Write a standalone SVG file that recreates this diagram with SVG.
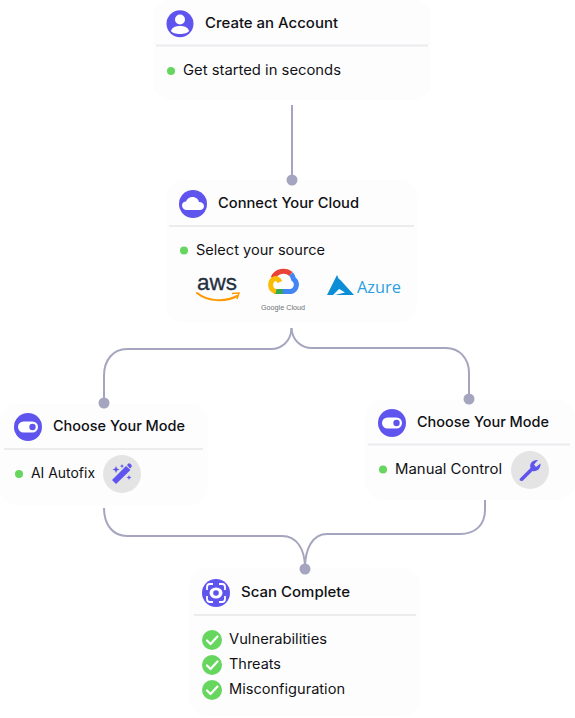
<svg xmlns="http://www.w3.org/2000/svg" width="575" height="718" viewBox="0 0 575 718">
<style>
text{font-family:"Inter","Open Sans","Liberation Sans",sans-serif;fill:#111114}
.t{font-size:14px;font-weight:500}
.b{font-size:14px;font-weight:400}
.card{fill:#fdfdfe}
.div{stroke:#ececee;stroke-width:2;fill:none}
.ic{fill:#5f55ee}
.bul{fill:#66d65f}
.con{fill:none;stroke:#a5a5bf;stroke-width:2}
.dot{fill:#a5a5bf}
.w{fill:#fff}
.gray{fill:#e4e4e4}
.g{fill:none;stroke-width:5}
</style>
<defs>
<g id="toggle"><circle r="14" class="ic"/><rect x="-10" y="-5.500" width="20" height="11" rx="5.500" class="w"/><circle cx="4.500" r="3.200" class="ic"/></g>
<g id="check"><circle r="10" class="bul"/><path d="M-5 0.500L-1.500 4L5.500 -3.500" fill="none" stroke="#fff" stroke-width="2.200" stroke-linecap="round" stroke-linejoin="round"/></g>
</defs>
<g id="node-account">
<rect class="card" x="153" y="0" width="278" height="100" rx="18"/>
<path class="div" d="M156 45.500H428"/>
<circle cx="180" cy="23.700" r="13.500" class="ic"/>
<circle cx="180" cy="19.500" r="5" class="w"/>
<path class="w" d="M171 31C172 27 176 26 180 26S188 27 189 31C187 35 173 35 171 31Z"/>
<text class="t" x="205" y="28" textLength="133" lengthAdjust="spacingAndGlyphs">Create an Account</text>
<circle cx="171" cy="71" r="4" class="bul"/>
<text class="b" x="183" y="75" textLength="158" lengthAdjust="spacingAndGlyphs">Get started in seconds</text>
</g>
<g id="node-cloud">
<rect class="card" x="166" y="180" width="251" height="143" rx="18"/>
<path class="div" d="M169 226H414"/>
<circle cx="193" cy="204" r="14" class="ic"/>
<path class="w" d="M187 210C184 210 182 208 182 205.500C182 203 184 201.500 186 201.500C187 198.500 189.500 197 192.500 197C196 197 198.500 199.500 199 202C202 202 204 204 204 206C204 208.500 202 210 200 210Z"/>
<text class="t" x="218" y="208" textLength="141" lengthAdjust="spacingAndGlyphs">Connect Your Cloud</text>
<circle cx="184" cy="250.500" r="4" class="bul"/>
<text class="b" x="196" y="255" textLength="129" lengthAdjust="spacingAndGlyphs">Select your source</text>
<text x="197" y="289.500" style="font-family:'Liberation Sans',sans-serif;font-size:22px;fill:#252f3e" stroke="#252f3e" stroke-width="0.300" textLength="40" lengthAdjust="spacingAndGlyphs">aws</text>
<path d="M197 293C208 302 226 302 237 296" fill="none" stroke="#ff9900" stroke-width="2" stroke-linecap="round"/>
<path d="M232 293.500L239 293L237 299" fill="none" stroke="#ff9900" stroke-width="1.500"/>
<path class="g" stroke="#ea4335" d="M273 278A11.500 11.500 0 0 1 291 274"/>
<path class="g" stroke="#4285f4" d="M291 274A11 11 0 0 1 293.500 279A7 7 0 0 1 291 291.500H283"/>
<path class="g" stroke="#34a853" d="M283 291.500H274"/>
<path class="g" stroke="#fbbc04" d="M276 291.500A6.800 6.800 0 0 1 275 278.500C277 278.500 279 280 280 282"/>
<text x="261" y="310" style="font-family:'Liberation Sans',sans-serif;font-size:8px;fill:#6f7277" textLength="44" lengthAdjust="spacingAndGlyphs">Google Cloud</text>
<path d="M337 275L342 286L333 295H327ZM339.500 279L354 295H335L345 292.500L336 287Z" fill="#0a8fd6"/>
<text x="357" y="293" style="font-family:'Open Sans',sans-serif;font-size:16px;fill:#2c9fe0" textLength="44" lengthAdjust="spacingAndGlyphs">Azure</text>
</g>
<g id="node-autofix">
<rect class="card" x="0" y="404" width="208" height="101" rx="18"/>
<path class="div" d="M4 449H203"/>
<use href="#toggle" x="28" y="427"/>
<text class="t" x="53" y="431" textLength="132" lengthAdjust="spacingAndGlyphs">Choose Your Mode</text>
<circle cx="19" cy="474" r="4" class="bul"/>
<text class="b" x="31" y="478" textLength="64" lengthAdjust="spacingAndGlyphs">AI Autofix</text>
<circle cx="122" cy="474" r="19" class="gray"/>
<path class="ic" d="M112 480L126 466L130.500 470L116 484ZM127 465L128.500 463.500Q129.500 463 130.500 464L131.500 465Q132 466 131.500 467L130 468.500Z"/>
<path class="ic" d="M116 466l1 2.500 2.500 1-2.500 1-1 2.500-1-2.500-2.500-1 2.500-1zM122 464l.6 1.500 1.500.6-1.500.6-.6 1.500-.6-1.500-1.500-.6 1.500-.6zM129 475l.7 1.800 1.800.7-1.800.7-.7 1.800-.7-1.800-1.800-.7 1.800-.7z"/>
</g>
<g id="node-manual">
<rect class="card" x="365" y="400" width="210" height="100" rx="18"/>
<path class="div" d="M368 444.500H570"/>
<use href="#toggle" x="392" y="423"/>
<text class="t" x="417" y="427" textLength="132" lengthAdjust="spacingAndGlyphs">Choose Your Mode</text>
<circle cx="383" cy="469.500" r="4" class="bul"/>
<text class="b" x="395" y="474" textLength="107" lengthAdjust="spacingAndGlyphs">Manual Control</text>
<circle cx="530" cy="470" r="19" class="gray"/>
<path class="ic" d="M520 478.500L530.500 468C529 463.500 532.500 459.500 538 460L534 464.500L536 467L540.500 463.500C541 468.500 537 472 532.500 471L523 480.500C521 482 518.500 480 520 478.500Z"/>
</g>
<g id="node-scan">
<rect class="card" x="189" y="568" width="231" height="148" rx="18"/>
<path class="div" d="M194 615H416"/>
<circle cx="216" cy="593" r="14" class="ic"/>
<path d="M207 590V587Q207 584 210 584H213M219 584H222Q225 584 225 587V590M225 596V599Q225 602 222 602H219M213 602H210Q207 602 207 599V596" fill="none" stroke="#fff" stroke-width="1.800"/>
<ellipse cx="216" cy="593" rx="6.500" ry="5.500" class="w"/>
<circle cx="216" cy="593" r="2.800" class="ic"/>
<text class="t" x="241" y="597" textLength="109" lengthAdjust="spacingAndGlyphs">Scan Complete</text>
<use href="#check" x="212" y="640"/>
<text class="b" x="229" y="644" textLength="98" lengthAdjust="spacingAndGlyphs">Vulnerabilities</text>
<use href="#check" x="212" y="665"/>
<text class="b" x="229" y="669" textLength="52" lengthAdjust="spacingAndGlyphs">Threats</text>
<use href="#check" x="212" y="690"/>
<text class="b" x="229" y="694" textLength="116" lengthAdjust="spacingAndGlyphs">Misconfiguration</text>
</g>
<g id="connectors">
<path class="con" d="M292 105V180"/>
<path class="con" d="M291.500 328C291 342 281 349 271 349H127C113 349 104 360 104 376V403"/>
<path class="con" d="M291.500 328C292 340 301 348 312 348H446C459 348 469 358 469 373V399"/>
<path class="con" d="M104 508C104 526 114 536 127 536H282C296 536 305 548 305 568"/>
<path class="con" d="M485 500V510C485 525 475 534 460 534H327C313 534 305 548 305 568"/>
<circle class="dot" cx="292" cy="180" r="5.500"/>
<circle class="dot" cx="104" cy="403" r="5.500"/>
<circle class="dot" cx="469" cy="399" r="5.500"/>
<circle class="dot" cx="305" cy="569" r="5.500"/>
</g>
</svg>
